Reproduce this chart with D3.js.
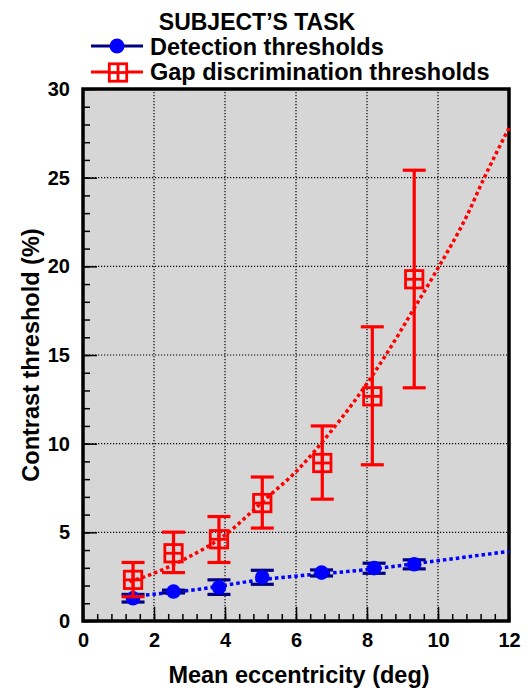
<body style="margin:0;background:#fff">
<script src="https://d3js.org/d3.v7.min.js"></script>
<script>
    // mean eccentricity (deg) of each test position
    const eccDetection = [1.41, 2.55, 3.83, 5.05, 6.72, 8.2, 9.33];
    const detection = [1.28, 1.66, 1.9, 2.47, 2.73, 2.98, 3.2];
    const detectionLow = [1.07, 1.58, 1.5, 2.07, 2.54, 2.69, 2.94];
    const detectionHigh = [1.5, 1.74, 2.32, 2.86, 2.88, 3.26, 3.45];

    const eccGap = [1.41, 2.55, 3.83, 5.05, 6.74, 8.15, 9.33];
    const gap = [2.32, 3.82, 4.61, 6.65, 8.91, 12.67, 19.27];
    const gapLow = [1.37, 2.73, 3.3, 5.24, 6.87, 8.81, 13.15];
    const gapHigh = [3.3, 5.01, 5.89, 8.12, 11.0, 16.59, 25.42];

    // fitted curves
    const fitDetectionX = [1.41, 3.1, 5.12, 6.15, 8.0, 9.96, 12];
    const fitDetectionY = [1.4, 1.75, 2.35, 2.56, 2.9, 3.39, 3.93];
    const fitGapX = [1.31, 1.88, 2.82, 3.94, 5.12, 6.1, 6.91, 7.61, 8.54, 9.31, 9.98, 10.81, 11.32, 12];
    const fitGapY = [2.22, 2.6, 3.45, 4.76, 6.84, 8.63, 10.51, 12.3, 15.03, 17.57, 19.83, 22.84, 25.07, 27.8];

    const xTicks = [0, 2, 4, 6, 8, 10, 12];
    const yTicks = [0, 5, 10, 15, 20, 25, 30];

    const width = 528;
    const height = 689;
    const plotLeft = 83, plotRight = 509, plotTop = 89, plotBottom = 621;
    const font = "'Liberation Sans', Arial, sans-serif";
    const blue = "#0000ff", navy = "#000080", red = "#ff0000";

    const x = d3.scaleLinear().domain([0, 12]).range([plotLeft, plotRight]);
    const y = d3.scaleLinear().domain([0, 30]).range([plotBottom, plotTop]);

    const svg = d3.select("body")
        .append("svg")
        .attr("width", width)
        .attr("height", height)
        .style("font-family", font)
        .style("font-weight", "bold");

    svg.append("rect")
        .attr("x", plotLeft).attr("y", plotTop)
        .attr("width", plotRight - plotLeft).attr("height", plotBottom - plotTop)
        .attr("fill", "#d6d6d6");

    // dotted grid
    svg.selectAll(".gx")
        .data(xTicks.slice(1, -1))
        .enter().append("line")
        .attr("x1", d => x(d)).attr("x2", d => x(d))
        .attr("y1", plotTop).attr("y2", plotBottom)
        .attr("stroke", "#000").attr("stroke-width", 1.2)
        .attr("stroke-dasharray", "1.2,1.8");
    svg.selectAll(".gy")
        .data(yTicks.slice(1, -1))
        .enter().append("line")
        .attr("y1", d => y(d)).attr("y2", d => y(d))
        .attr("x1", plotLeft).attr("x2", plotRight)
        .attr("stroke", "#000").attr("stroke-width", 1.2)
        .attr("stroke-dasharray", "1.2,1.8");

    // axes: minor ticks, then major ticks with labels (all pointing inside)
    const tickStyle = g => {
        g.select(".domain").remove();
        g.selectAll("line").attr("stroke", "#000").attr("stroke-width", 1.5);
        g.selectAll("text").attr("fill", "#000").style("font-size", "20px")
            .style("font-family", font).style("font-weight", "bold");
    };

    svg.append("g")
        .attr("transform", "translate(" + plotLeft + ",0)")
        .call(d3.axisLeft(y).tickValues(d3.range(0, 31, 1)).tickSize(-7).tickFormat(""))
        .call(tickStyle);
    svg.append("g")
        .attr("transform", "translate(" + plotLeft + ",0)")
        .call(d3.axisLeft(y).tickValues(yTicks).tickSize(-14).tickPadding(13))
        .call(tickStyle);

    svg.append("g")
        .attr("transform", "translate(0," + plotBottom + ")")
        .call(d3.axisBottom(x).tickValues(d3.range(0, 12.01, 0.4)).tickSize(-7).tickFormat(""))
        .call(tickStyle);
    svg.append("g")
        .attr("transform", "translate(0," + plotBottom + ")")
        .call(d3.axisBottom(x).tickValues(xTicks).tickSize(-14).tickPadding(12))
        .call(tickStyle);

    // frame
    svg.append("rect")
        .attr("x", plotLeft).attr("y", plotTop)
        .attr("width", plotRight - plotLeft).attr("height", plotBottom - plotTop)
        .attr("fill", "none").attr("stroke", "#000").attr("stroke-width", 3.5);

    const line = d3.line().x(d => x(d[0])).y(d => y(d[1])).curve(d3.curveMonotoneX);

    // blue series
    svg.append("path")
        .attr("d", line(d3.zip(fitDetectionX, fitDetectionY)))
        .attr("fill", "none").attr("stroke", blue).attr("stroke-width", 3.5)
        .attr("stroke-dasharray", "3.5,3");

    const detRows = eccDetection.map((e, i) => ({ e, v: detection[i], lo: detectionLow[i], hi: detectionHigh[i] }));
    const capW = 11.5;
    const errorBars = (rows, color) => {
        const g = svg.append("g").attr("stroke", color).attr("stroke-width", 3.2);
        g.selectAll(".v").data(rows).enter().append("line")
            .attr("x1", d => x(d.e)).attr("x2", d => x(d.e))
            .attr("y1", d => y(d.lo)).attr("y2", d => y(d.hi));
        g.selectAll(".lo").data(rows).enter().append("line")
            .attr("x1", d => x(d.e) - capW).attr("x2", d => x(d.e) + capW)
            .attr("y1", d => y(d.lo)).attr("y2", d => y(d.lo));
        g.selectAll(".hi").data(rows).enter().append("line")
            .attr("x1", d => x(d.e) - capW).attr("x2", d => x(d.e) + capW)
            .attr("y1", d => y(d.hi)).attr("y2", d => y(d.hi));
    };
    errorBars(detRows, navy);

    svg.selectAll(".dot").data(detRows).enter().append("circle")
        .attr("cx", d => x(d.e)).attr("cy", d => y(d.v))
        .attr("r", 7.3).attr("fill", blue);

    // red series
    svg.append("path")
        .attr("d", line(d3.zip(fitGapX, fitGapY)))
        .attr("fill", "none").attr("stroke", red).attr("stroke-width", 3.5)
        .attr("stroke-dasharray", "3.5,3");

    const gapRows = eccGap.map((e, i) => ({ e, v: gap[i], lo: gapLow[i], hi: gapHigh[i] }));
    errorBars(gapRows, red);

    const sq = 8.7;
    const boxCross = (g, cx, cy) => {
        g.append("rect").attr("x", cx - sq).attr("y", cy - sq)
            .attr("width", 2 * sq).attr("height", 2 * sq);
        g.append("line").attr("x1", cx - sq).attr("x2", cx + sq).attr("y1", cy).attr("y2", cy);
        g.append("line").attr("x1", cx).attr("x2", cx).attr("y1", cy - sq).attr("y2", cy + sq);
    };
    gapRows.forEach(d => {
        const g = svg.append("g").attr("fill", "none").attr("stroke", red).attr("stroke-width", 2.8);
        boxCross(g, x(d.e), y(d.v));
    });

    // legend
    svg.append("text")
        .attr("x", 257).attr("y", 30)
        .attr("text-anchor", "middle")
        .style("font-size", "23px")
        .text("SUBJECT\u2019S TASK");

    svg.append("line").attr("x1", 91).attr("x2", 143).attr("y1", 46).attr("y2", 46)
        .attr("stroke", navy).attr("stroke-width", 3);
    svg.append("circle").attr("cx", 117).attr("cy", 46).attr("r", 7.5).attr("fill", blue);
    svg.append("text").attr("x", 150).attr("y", 55).style("font-size", "23.5px")
        .text("Detection thresholds");

    svg.append("line").attr("x1", 91).attr("x2", 143).attr("y1", 72).attr("y2", 72)
        .attr("stroke", red).attr("stroke-width", 3);
    const lg = svg.append("g").attr("fill", "#fff").attr("stroke", red).attr("stroke-width", 2.8);
    boxCross(lg, 118, 72.5);
    svg.append("text").attr("x", 150).attr("y", 80).style("font-size", "23.5px")
        .text("Gap discrimination thresholds");

    // axis titles
    svg.append("text")
        .attr("x", 299).attr("y", 683)
        .attr("text-anchor", "middle")
        .style("font-size", "23.5px")
        .text("Mean eccentricity (deg)");

    svg.append("text")
        .attr("transform", "translate(39," + ((plotTop + plotBottom) / 2) + ") rotate(-90)")
        .attr("text-anchor", "middle")
        .style("font-size", "23.5px")
        .text("Contrast threshold (%)");
</script>
</body>
